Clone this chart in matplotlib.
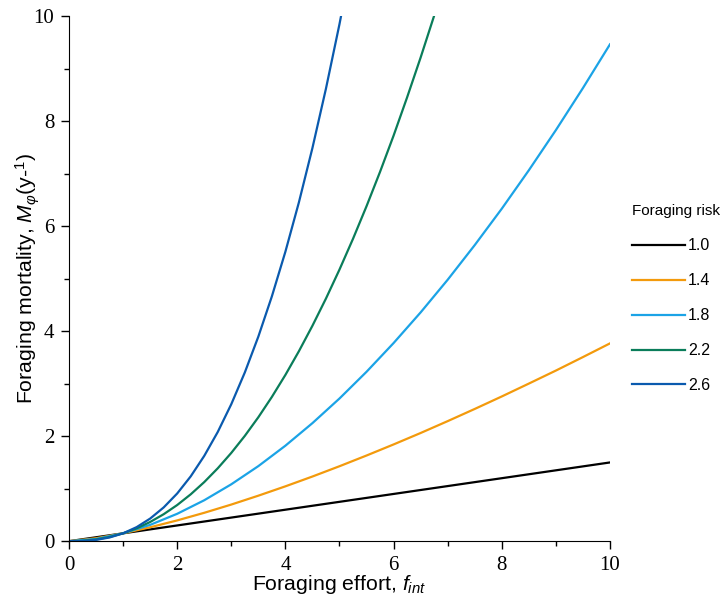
#!/usr/bin/env python3
"""Foraging mortality against foraging effort for several foraging-risk exponents."""

import matplotlib

matplotlib.use("Agg")
import matplotlib.pyplot as plt
from matplotlib.ticker import MultipleLocator

# values; the two steepest curves are read more densely
effort = [0.0, 0.5, 1.0, 1.5, 2.0, 2.5, 3.0, 3.5, 4.0, 4.5, 5.0,
          5.5, 6.0, 6.5, 7.0, 7.5, 8.0, 8.5, 9.0, 9.5, 10.0]
effort_fine = [0.0, 0.25, 0.5, 0.75, 1.0, 1.25, 1.5, 1.75, 2.0, 2.25, 2.5,
               2.75, 3.0, 3.25, 3.5, 3.75, 4.0, 4.25, 4.5, 4.75, 5.0,
               5.25, 5.5, 5.75, 6.0, 6.25, 6.5, 6.75, 7.0]
risk_labels = ["1.0", "1.4", "1.8", "2.2", "2.6"]
risk_colors = ["#000000", "#F39A0C", "#1BA3E6", "#0A7D5A", "#0A5AAE"]

mort_10 = [0.0, 0.075, 0.15, 0.225, 0.30, 0.375, 0.45, 0.525, 0.60, 0.675, 0.75,
           0.825, 0.90, 0.975, 1.05, 1.125, 1.20, 1.275, 1.35, 1.425, 1.50]
mort_14 = [0.0, 0.057, 0.15, 0.265, 0.396, 0.541, 0.698, 0.867, 1.045, 1.232, 1.428,
           1.632, 1.843, 2.061, 2.287, 2.519, 2.757, 3.002, 3.250, 3.507, 3.768]
mort_18 = [0.0, 0.043, 0.15, 0.311, 0.522, 0.780, 1.084, 1.430, 1.819, 2.249, 2.718,
           3.227, 3.774, 4.358, 4.980, 5.640, 6.333, 7.065, 7.830, 8.631, 9.464]
mort_22 = [0.0, 0.007, 0.033, 0.080, 0.15, 0.245, 0.366, 0.514, 0.689, 0.893, 1.126,
           1.389, 1.682, 2.006, 2.361, 2.748, 3.167, 3.619, 4.104, 4.622, 5.174,
           5.760, 6.381, 7.036, 7.725, 8.454, 9.213, 10.01, 10.85]
mort_26 = [0.0, 0.004, 0.025, 0.071, 0.15, 0.268, 0.431, 0.643, 0.909, 1.235, 1.625,
           2.081, 2.610, 3.214, 3.897, 4.663, 5.514, 6.455, 7.490, 8.621, 9.849,
           11.18]

plt.rcParams["font.family"] = "Liberation Sans"
plt.rcParams["mathtext.fontset"] = "custom"
plt.rcParams["mathtext.rm"] = "Liberation Sans"
plt.rcParams["mathtext.it"] = "Liberation Sans:italic"

fig = plt.figure(figsize=(7.21, 6.0), dpi=100)
ax = fig.add_axes([0.0957, 0.098, 0.7503, 0.875])

for xs, series, label, color in zip(
    (effort, effort, effort, effort_fine, effort_fine),
    (mort_10, mort_14, mort_18, mort_22, mort_26),
    risk_labels,
    risk_colors,
):
    ax.plot(xs[: len(series)], series, color=color, lw=1.6, label=label)

ax.set_xlim(0, 10)
ax.set_ylim(0, 10)
ax.xaxis.set_major_locator(MultipleLocator(2))
ax.xaxis.set_minor_locator(MultipleLocator(1))
ax.yaxis.set_major_locator(MultipleLocator(2))
ax.yaxis.set_minor_locator(MultipleLocator(1))
ax.spines[["top", "right"]].set_visible(False)
ax.tick_params(which="major", direction="out", length=6, width=1, pad=4.5,
               labelsize=15)
ax.tick_params(which="minor", direction="out", length=3.5, width=1)
for lab in ax.get_xticklabels() + ax.get_yticklabels():
    lab.set_fontfamily("Liberation Serif")

ax.set_xlabel("Foraging effort, $f_{int}$", fontsize=15.3, labelpad=-1)
ax.set_ylabel(r"Foraging mortality, $M_{\varphi}$(y-$^{\mathregular{1}}$)",
              fontsize=15.3, labelpad=-6)

leg = ax.legend(title="Foraging risk", loc="center left",
                bbox_to_anchor=(1.0, 0.462), frameon=False, fontsize=11.5,
                title_fontsize=11, handlelength=3.3, handletextpad=0.2,
                labelspacing=1.25, borderaxespad=1.0)
leg._legend_box.align = "left"

fig.savefig("out.png", dpi=100)
